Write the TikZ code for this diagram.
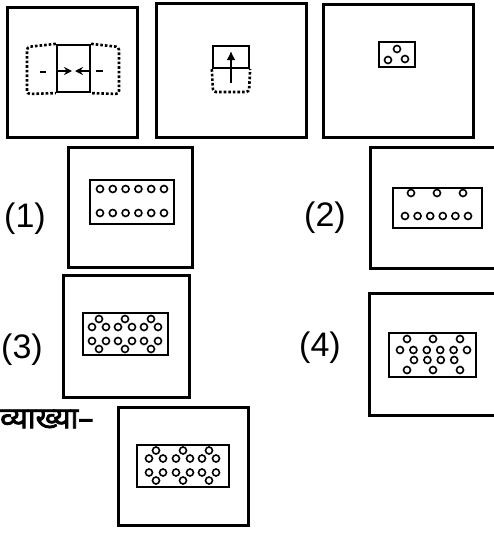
\documentclass[tikz,border=0pt]{standalone}
\usepackage{fontspec}
\setmainfont{Liberation Sans}
\newfontfamily\deva[Script=Devanagari, FakeBold=2.5]{Noto Sans}
\usetikzlibrary{arrows.meta, positioning}

% six punched holes round one centre
\newcommand{\holegroup}[2]{%
  \foreach \dx/\dy in {0/-15,-7/-7,7/-7,-7/7,7/7,0/15}
    \node[hole] at ({#1+\dx},{#2+\dy}) {};}

\begin{document}
\begin{tikzpicture}[
      x=1pt, y=-1pt, >={Stealth[length=8pt,width=8pt]},
      frame/.style={draw, line width=3pt, inner sep=0pt},
      sheet/.style={draw, line width=2.3pt, inner sep=0pt},
      hole/.style={draw, circle, line width=1.6pt, minimum size=7pt, inner sep=0pt},
      fold/.style={line width=2.6pt, dotted, rounded corners=3pt},
      optlabel/.style={inner sep=0pt, font=\fontsize{34}{40}\selectfont},
      arr/.style={->, line width=2pt}
    ]
      \useasboundingbox (0,0) rectangle (494,533);

      % question figures
      \node[frame, minimum width=130pt, minimum height=130pt] (qa) at (72,72) {};
      \node[sheet, minimum width=33pt, minimum height=47pt] (sa) at (73.5,68.5) {};
      \draw[fold] (sa.north west) -- (27,47) -- (27,94) -- (sa.south west);
      \draw[fold] (sa.north east) -- (119,47) -- (119,94) -- (sa.south east);
      \draw[line width=2.2pt] (40,72) -- (46,72);
      \draw[line width=2.2pt] (96,71) -- (103,71);
      \draw[arr] (58,71) -- (72,71);
      \draw[arr] (89,71) -- (75,71);

      \node[frame, minimum width=150pt, minimum height=134pt] (qb) at (231,70) {};
      \node[sheet, minimum width=36pt, minimum height=22pt] (sb) at (231,57) {};
      \draw[fold] (sb.south west) -- (213,92) -- (249,92) -- (sb.south east);
      \draw[-{Latex[length=9pt,width=9pt]}, line width=2pt] (231,83) -- (231,51);

      \node[frame, minimum width=150pt, minimum height=133pt] (qc) at (398,70.5) {};
      \node[sheet, minimum width=36pt, minimum height=25pt] (sc) at (397,54.5) {};
      \node[hole] at (397,49) {};
      \node[hole] at (388,60) {};
      \node[hole] at (405,59) {};

      % option 1
      \node[optlabel] (l1) at (25,219) {(1)};
      \node[frame, minimum width=124pt, minimum height=120pt] (o1) at (130,207) {};
      \node[sheet, minimum width=84pt, minimum height=44pt] (s1) at (132,202) {};
      \foreach \i in {0,...,5} {
        \node[hole] at ({100+12.8*\i},189) {};
        \node[hole] at ({100+12.8*\i},213) {};
      }

      % option 2
      \node[optlabel] (l2) at (325,218) {(2)};
      \draw[line width=3pt] (494,147) -| (370,268) -- (494,268);
      \node[sheet, minimum width=89pt, minimum height=40pt] (s2) at (437.5,208) {};
      \foreach \x in {411,437,463}
        \node[hole] at (\x,193) {};
      \foreach \i in {0,...,5}
        \node[hole] at ({405+12.6*\i},216) {};

      % option 3
      \node[optlabel] (l3) at (22,350) {(3)};
      \node[frame, minimum width=126pt, minimum height=122pt] (o3) at (126,336) {};
      \node[sheet, minimum width=85pt, minimum height=42pt] (s3) at (125.5,334) {};
      \foreach \cx in {99,125,151} {\holegroup{\cx}{334}}

      % option 4
      \node[optlabel] (l4) at (320,348) {(4)};
      \draw[line width=3pt] (494,293) -| (369,415) -- (494,415);
      \node[sheet, minimum width=87pt, minimum height=44pt] (s4) at (432.5,355) {};
      \foreach \x in {407,433,460} {
        \node[hole] at (\x,339) {};
        \node[hole] at (\x,370) {};
      }
      \foreach \i in {0,...,5}
        \node[hole] at ({400+13.4*\i},350) {};
      \foreach \i in {0,...,3}
        \node[hole] at ({414+13.4*\i},360) {};

      % explanation
      \node[anchor=west, inner sep=0pt, font=\deva\fontsize{30}{34}\selectfont] (vyakhya) at (0,419) {व्याख्या–};
      \node[frame, minimum width=130pt, minimum height=118pt] (ans) at (183,466) {};
      \node[sheet, minimum width=92pt, minimum height=42pt] (sans) at (183,466) {};
      \foreach \cx in {156,183,209} {\holegroup{\cx}{465.5}}
    \end{tikzpicture}
\end{document}
